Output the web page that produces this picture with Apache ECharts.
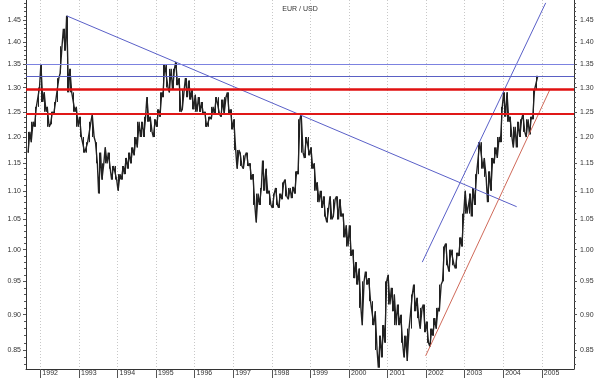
<!DOCTYPE html>
<html>
<head>
<meta charset="utf-8">
<script src="https://cdn.jsdelivr.net/npm/echarts@6/dist/echarts.min.js"></script>
<style>
  html, body { margin: 0; padding: 0; background: #fff; }
  #chart { width: 600px; height: 378px; }
</style>
</head>
<body>
<div id="chart"></div>
<script>
// monthly high / low, Sep 1991 .. Nov 2004
const firstMonth = [1991, 8]
const highs = [
  1.21, 1.23, 1.26, 1.30,
  1.35, 1.29, 1.26, 1.25, 1.27, 1.32, 1.39, 1.43, 1.46, 1.34, 1.29, 1.26,
  1.24, 1.20, 1.19, 1.23, 1.245, 1.19, 1.17, 1.15, 1.18, 1.17, 1.145, 1.145,
  1.13, 1.145, 1.16, 1.17, 1.18, 1.20, 1.23, 1.23, 1.24, 1.28, 1.24, 1.235,
  1.255, 1.29, 1.35, 1.35, 1.34, 1.34, 1.355, 1.32, 1.295, 1.32, 1.315, 1.295,
  1.285, 1.28, 1.27, 1.25, 1.24, 1.26, 1.28, 1.28, 1.275, 1.28, 1.29, 1.255,
  1.235, 1.175, 1.17, 1.165, 1.17, 1.15, 1.13, 1.095, 1.105, 1.155, 1.14, 1.10,
  1.095, 1.105, 1.095, 1.115, 1.12, 1.105, 1.107, 1.135, 1.235, 1.245, 1.20, 1.20,
  1.18, 1.15, 1.115, 1.10, 1.09, 1.07, 1.09, 1.085, 1.09, 1.085, 1.06, 1.04,
  1.04, 1.00, 0.98, 0.97, 0.95, 0.965, 0.955, 0.92, 0.905, 0.87, 0.885, 0.95,
  0.96, 0.94, 0.93, 0.915, 0.90, 0.87, 0.88, 0.93, 0.945, 0.925, 0.91, 0.915,
  0.89, 0.88, 0.895, 0.91, 0.945, 1.005, 1.01, 1.00, 1.00, 0.995, 1.02, 1.06,
  1.10, 1.095, 1.105, 1.13, 1.19, 1.19, 1.16, 1.135, 1.16, 1.18, 1.20, 1.26,
  1.29, 1.29, 1.24, 1.22, 1.23, 1.235, 1.245, 1.235, 1.24, 1.295, 1.325
]
const lows = [
  1.17, 1.19, 1.22, 1.26,
  1.27, 1.25, 1.22, 1.225, 1.245, 1.27, 1.33, 1.38, 1.29, 1.29, 1.25, 1.22,
  1.20, 1.17, 1.17, 1.19, 1.20, 1.15, 1.095, 1.12, 1.15, 1.14, 1.12, 1.12,
  1.10, 1.12, 1.13, 1.14, 1.15, 1.165, 1.18, 1.20, 1.20, 1.23, 1.21, 1.20,
  1.22, 1.24, 1.28, 1.30, 1.29, 1.295, 1.305, 1.25, 1.255, 1.28, 1.275, 1.255,
  1.25, 1.25, 1.245, 1.22, 1.22, 1.235, 1.245, 1.245, 1.24, 1.245, 1.245, 1.215,
  1.175, 1.14, 1.145, 1.14, 1.145, 1.12, 1.075, 1.045, 1.075, 1.10, 1.095, 1.075,
  1.07, 1.075, 1.07, 1.085, 1.09, 1.085, 1.087, 1.095, 1.13, 1.17, 1.16, 1.165,
  1.14, 1.10, 1.08, 1.07, 1.055, 1.045, 1.05, 1.055, 1.05, 1.055, 1.02, 1.005,
  0.99, 0.955, 0.945, 0.91, 0.885, 0.945, 0.92, 0.885, 0.85, 0.826, 0.84, 0.86,
  0.915, 0.905, 0.885, 0.885, 0.86, 0.84, 0.835, 0.88, 0.905, 0.895, 0.88, 0.875,
  0.86, 0.855, 0.87, 0.88, 0.905, 0.95, 0.975, 0.965, 0.975, 0.97, 0.99, 1.005,
  1.06, 1.06, 1.055, 1.075, 1.13, 1.14, 1.125, 1.08, 1.10, 1.15, 1.16, 1.19,
  1.24, 1.23, 1.20, 1.18, 1.18, 1.20, 1.21, 1.20, 1.205, 1.235, 1.295
]

// support / resistance levels
const blueLevels = [1.3526, 1.3245]
const redLevels = [1.2906, 1.2455]

// trend lines: [start date, start price, end date, end price]
const trendDown = ['1992-09-07', 1.460, '2004-05-08', 1.072]
const trendUp = ['2001-11-26', 0.980, '2005-02-07', 1.491]
const trendSupport = ['2001-12-28', 0.842, '2005-03-19', 1.296]

const yTicks = [0.85, 0.90, 0.95, 1.00, 1.05, 1.10, 1.15, 1.20, 1.25, 1.30, 1.35, 1.40, 1.45]
const years = [1992, 1993, 1994, 1995, 1996, 1997, 1998, 1999, 2000, 2001, 2002, 2003, 2004, 2005]

const ln = Math.log
const minorTicks = []
for (let v = 83; v <= 149; v++) minorTicks.push(ln(v / 100))
const yearStarts = years.map((y) => Date.UTC(y, 0, 1))

const monthTs = (i, day) => Date.UTC(firstMonth[0], firstMonth[1] + i, day)

// one high-low bar per month
const bars = highs.map((h, i) => {
  const l = lows[i]
  return [monthTs(i, 15), ln(l), ln(h), ln(l), ln(h)]
})

// path through the monthly extremes, low first when the next month is higher
const path = []
highs.forEach((h, i) => {
  const l = lows[i]
  const mid = (h + l) / 2
  const next = i + 1 < highs.length ? (highs[i + 1] + lows[i + 1]) / 2 : mid
  const pair = next >= mid ? [l, h] : [h, l]
  path.push([monthTs(i, 6), ln(pair[0])])
  path.push([monthTs(i, 24), ln(pair[1])])
})

const toTs = (s) => Date.parse(s + 'T00:00:00Z')
function trend(t, color) {
  return {
    type: 'line',
    silent: true,
    showSymbol: false,
    symbol: 'none',
    lineStyle: { color, width: 1 },
    data: [[toTs(t[0]), ln(t[1])], [toTs(t[2]), ln(t[3])]],
    z: 4,
  }
}

const labelFont = { fontSize: 7, color: '#333', fontFamily: 'Liberation Sans, Arial, sans-serif' }
const yMin = ln(0.8243)
const yMax = ln(1.498)

function yAxis(position, major) {
  return {
    type: 'value',
    position,
    min: yMin,
    max: yMax,
    axisLine: { show: major, onZero: false, lineStyle: { color: '#333' } },
    axisTick: {
      show: true,
      customValues: major ? yTicks.map(ln) : minorTicks,
      length: major ? 3 : 2,
      lineStyle: { color: '#555' },
    },
    axisLabel: major
      ? {
          show: true,
          customValues: yTicks.map(ln),
          formatter: (v) => Math.exp(v).toFixed(2),
          margin: position === 'left' ? 5 : 6,
          ...labelFont,
        }
      : { show: false },
    splitLine: { show: false },
  }
}

const chart = echarts.init(document.getElementById('chart'), null, { renderer: 'canvas' })
chart.setOption({
  animation: false,
  backgroundColor: '#fff',
  title: {
    text: 'EUR / USD',
    left: 'center',
    top: 1,
    textStyle: { fontSize: 7, fontWeight: 'normal', color: '#333', fontFamily: 'Liberation Sans, Arial, sans-serif' },
  },
  grid: { left: 26, right: 26, top: 0, bottom: 9 },
  xAxis: {
    type: 'value',
    min: Date.UTC(1991, 7, 18),
    max: Date.UTC(2005, 10, 2),
    axisLine: { onZero: false, lineStyle: { color: '#333' } },
    axisTick: { customValues: yearStarts, length: 9, lineStyle: { color: '#555' } },
    axisLabel: {
      customValues: yearStarts,
      formatter: (v) => String(new Date(v).getUTCFullYear()),
      align: 'left',
      padding: [0, 0, 0, 2],
      margin: 1,
      ...labelFont,
    },
    splitLine: { show: true, lineStyle: { color: '#c8c8c8', type: [1, 2] } },
  },
  yAxis: [yAxis('left', true), yAxis('right', true), yAxis('left', false), yAxis('right', false)],
  series: [
    {
      type: 'candlestick',
      barWidth: 1,
      data: bars,
      encode: { x: 0, y: [1, 2, 3, 4] },
      itemStyle: {
        color: '#222',
        color0: '#222',
        borderColor: '#222',
        borderColor0: '#222',
        borderWidth: 1,
      },
      z: 3,
    },
    {
      type: 'line',
      data: path,
      silent: true,
      showSymbol: false,
      symbol: 'none',
      lineStyle: { color: '#222', width: 1.4 },
      z: 3,
    },
    {
      type: 'line',
      data: [],
      silent: true,
      markLine: {
        silent: true,
        symbol: 'none',
        label: { show: false },
        data: [
          { yAxis: ln(blueLevels[0]), lineStyle: { color: '#7c82e0', width: 1, type: 'solid' } },
          { yAxis: ln(blueLevels[1]), lineStyle: { color: '#5a60c4', width: 1, type: 'solid' } },
          { yAxis: ln(redLevels[0]), lineStyle: { color: '#e01010', width: 2.5, type: 'solid' } },
          { yAxis: ln(redLevels[1]), lineStyle: { color: '#e01818', width: 1.8, type: 'solid' } },
        ],
      },
      z: 5,
    },
    trend(trendDown, '#5a60c8'),
    trend(trendUp, '#5a60c8'),
    trend(trendSupport, '#d06a5a'),
  ],
})
</script>
</body>
</html>
